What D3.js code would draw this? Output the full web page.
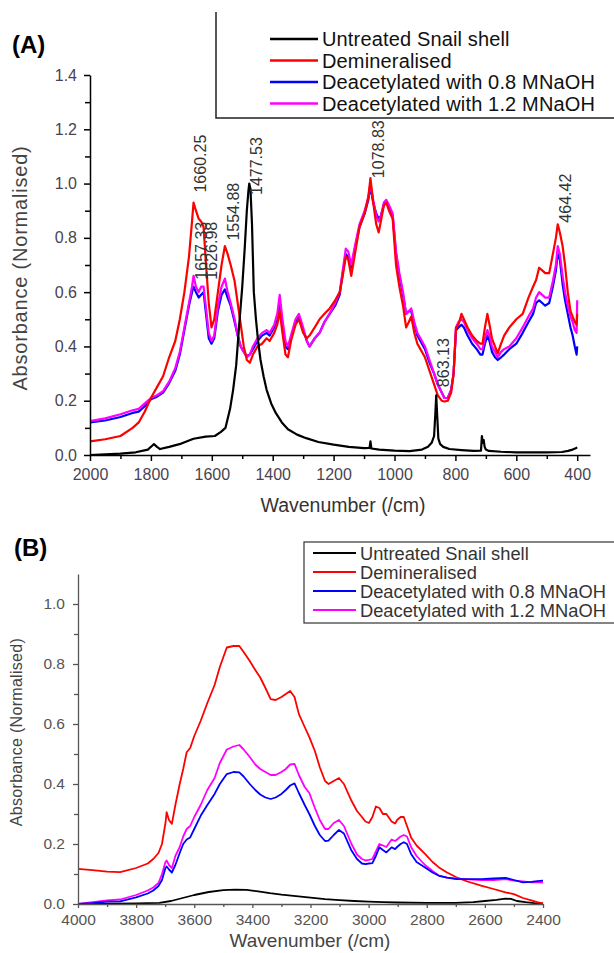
<!DOCTYPE html>
<html>
<head>
<meta charset="utf-8">
<script src="https://cdn.jsdelivr.net/npm/d3@7"></script>
<style>
body { margin: 0; background: #fff; }
svg { display: block; font-family: "Liberation Sans", Arial, sans-serif; }
</style>
</head>
<body>
<script>
// legend names and colours (same order in both panels)
var seriesNames = ["Untreated Snail shell", "Demineralised", "Deacetylated with 0.8 MNaOH", "Deacetylated with 1.2 MNaOH"];
var seriesColors = ["#000000", "#ff0000", "#0000ff", "#ff00ff"];

// ---- panel A: 2000-400 /cm ----
var wnA = [2000,1950,1900,1860,1840,1820,1800,1780,1760,1740,
  1720,1705,1690,1675,1665,1660,1652,1643,1635,1627,
  1620,1610,1601,1592,1580,1568,1557,1548,1538,1525,
  1515,1505,1495,1485,1475,1465,1450,1435,1420,1410,
  1395,1385,1377,1368,1358,1350,1340,1325,1314,1300,
  1288,1279,1262,1246,1230,1213,1195,1180,1170,1160,
  1152,1142,1130,1115,1098,1086,1079,1070,1060,1052,
  1045,1035,1027,1018,1006,995,984,972,962,953,
  945,935,925,915,900,885,870,858,845,836,
  825,814,806,798,790,780,772,760,745,730,
  718,711,703,695,688,680,670,661,650,640,
  623,600,579,560,545,535,525,515,505,492,
  480,470,464,457,448,440,431,422,415,408,
  402,400];
var demineralisedA = [0.05,0.058,0.07,0.1,0.12,0.16,0.21,0.25,0.29,0.36,
  0.42,0.5,0.6,0.73,0.86,0.93,0.9,0.87,0.86,0.84,
  0.72,0.56,0.47,0.5,0.6,0.7,0.77,0.74,0.7,0.64,
  0.56,0.48,0.4,0.35,0.34,0.37,0.4,0.41,0.43,0.42,
  0.45,0.48,0.53,0.45,0.37,0.36,0.42,0.48,0.5,0.45,
  0.43,0.44,0.47,0.5,0.52,0.54,0.57,0.6,0.66,0.73,
  0.72,0.66,0.74,0.84,0.89,0.95,1.02,0.93,0.85,0.82,
  0.86,0.92,0.93,0.9,0.87,0.7,0.62,0.55,0.47,0.49,
  0.51,0.45,0.41,0.39,0.36,0.31,0.26,0.22,0.2,0.197,
  0.2,0.23,0.3,0.47,0.48,0.52,0.5,0.47,0.44,0.42,
  0.41,0.41,0.47,0.52,0.48,0.43,0.4,0.375,0.41,0.44,
  0.47,0.5,0.52,0.58,0.62,0.645,0.69,0.68,0.67,0.67,
  0.74,0.8,0.85,0.82,0.77,0.7,0.6,0.53,0.51,0.49,
  0.48,0.52];
var naoh08A = [0.12,0.127,0.14,0.155,0.16,0.18,0.205,0.215,0.23,0.265,
  0.31,0.37,0.46,0.55,0.6,0.62,0.6,0.58,0.59,0.6,
  0.53,0.43,0.41,0.43,0.53,0.59,0.61,0.58,0.55,0.49,
  0.44,0.4,0.38,0.365,0.37,0.39,0.42,0.44,0.45,0.44,
  0.47,0.5,0.56,0.48,0.4,0.39,0.43,0.49,0.51,0.46,
  0.42,0.4,0.43,0.45,0.49,0.52,0.55,0.59,0.67,0.74,
  0.73,0.69,0.76,0.84,0.89,0.94,0.99,0.93,0.89,0.87,
  0.88,0.92,0.93,0.91,0.88,0.74,0.66,0.59,0.52,0.53,
  0.53,0.48,0.44,0.42,0.39,0.34,0.3,0.26,0.23,0.21,
  0.21,0.24,0.3,0.46,0.47,0.48,0.47,0.44,0.41,0.39,
  0.37,0.37,0.41,0.44,0.42,0.38,0.36,0.35,0.36,0.37,
  0.39,0.41,0.45,0.49,0.52,0.56,0.57,0.56,0.55,0.56,
  0.62,0.68,0.74,0.72,0.63,0.57,0.52,0.47,0.44,0.4,
  0.37,0.4];
var naoh12A = [0.125,0.135,0.15,0.165,0.17,0.19,0.21,0.22,0.235,0.27,
  0.32,0.38,0.47,0.56,0.62,0.66,0.62,0.6,0.62,0.62,
  0.55,0.45,0.42,0.44,0.55,0.62,0.65,0.6,0.56,0.5,
  0.44,0.4,0.38,0.36,0.37,0.4,0.43,0.45,0.46,0.45,
  0.48,0.52,0.59,0.5,0.42,0.4,0.44,0.5,0.52,0.47,
  0.42,0.4,0.43,0.45,0.49,0.52,0.56,0.6,0.68,0.76,
  0.75,0.7,0.77,0.85,0.9,0.95,1.0,0.94,0.88,0.86,
  0.88,0.93,0.94,0.92,0.89,0.75,0.67,0.6,0.52,0.53,
  0.54,0.49,0.45,0.43,0.4,0.35,0.3,0.26,0.23,0.21,
  0.21,0.24,0.3,0.47,0.49,0.5,0.49,0.46,0.43,0.41,
  0.39,0.39,0.43,0.46,0.44,0.4,0.38,0.36,0.38,0.39,
  0.4,0.43,0.47,0.51,0.54,0.58,0.6,0.59,0.58,0.58,
  0.64,0.7,0.77,0.74,0.66,0.6,0.55,0.51,0.49,0.46,
  0.45,0.57];
var wnShellA = [2000,1950,1900,1850,1810,1795,1790,1780,1770,1740,
  1700,1660,1620,1590,1570,1555,1540,1530,1520,1510,
  1500,1492,1485,1480,1477,1473,1468,1462,1455,1448,
  1440,1430,1420,1405,1390,1370,1350,1320,1290,1250,
  1200,1150,1100,1082,1079,1076,1050,1000,950,910,
  890,878,870,866,863,860,856,850,840,820,
  780,740,716,713,710,707,704,700,690,650,
  600,550,500,450,430,415,405,400];
var shellA = [0.0,0.002,0.005,0.01,0.02,0.035,0.04,0.03,0.022,0.03,
  0.042,0.06,0.068,0.07,0.085,0.1,0.17,0.24,0.33,0.48,
  0.62,0.76,0.9,0.97,1.0,0.98,0.85,0.6,0.5,0.42,
  0.35,0.29,0.24,0.19,0.155,0.12,0.095,0.075,0.062,0.048,
  0.038,0.03,0.025,0.026,0.05,0.024,0.02,0.016,0.014,0.02,
  0.03,0.045,0.07,0.15,0.22,0.15,0.06,0.04,0.03,0.022,
  0.018,0.015,0.016,0.07,0.045,0.055,0.03,0.02,0.015,0.012,
  0.01,0.01,0.01,0.011,0.015,0.02,0.025,0.028];
var peakWn = [1660.25, 1657.33, 1626.98, 1554.88, 1477.53, 1078.83, 863.13, 464.42];
var peakLabelBase = [0.967, 0.646, 0.646, 0.79, 0.958, 1.02, 0.25, 0.856];
var xTicksA = [2000, 1800, 1600, 1400, 1200, 1000, 800, 600, 400];
var xMinorA = [1900, 1700, 1500, 1300, 1100, 900, 700, 500];
var yTicksA = [0, 0.2, 0.4, 0.6, 0.8, 1.0, 1.2, 1.4];
var yMinorA = [0.1, 0.3, 0.5, 0.7, 0.9, 1.1, 1.3];

// ---- panel B: 4000-2400 /cm ----
var wnB = [4000,3950,3900,3855,3800,3760,3741,3723,3711,3699,
  3695,3687,3677,3665,3650,3638,3626,3614,3600,3578,
  3555,3530,3512,3488,3465,3445,3430,3409,3390,3373,
  3355,3337,3320,3300,3285,3270,3255,3240,3220,3204,
  3185,3168,3150,3138,3120,3102,3085,3059,3040,3023,
  3011,2999,2987,2975,2963,2951,2939,2921,2909,2902,
  2890,2879,2868,2854,2835,2806,2780,2758,2730,2698,
  2660,2613,2570,2529,2500,2469,2440,2420,2400];
var demineralisedB = [0.117,0.113,0.108,0.106,0.12,0.135,0.15,0.17,0.2,0.27,
  0.306,0.28,0.267,0.33,0.40,0.45,0.506,0.52,0.56,0.61,
  0.67,0.73,0.79,0.855,0.86,0.86,0.84,0.81,0.78,0.755,
  0.72,0.683,0.68,0.69,0.70,0.71,0.69,0.633,0.59,0.556,
  0.51,0.456,0.41,0.40,0.41,0.42,0.4,0.344,0.31,0.29,
  0.275,0.27,0.29,0.325,0.32,0.30,0.30,0.275,0.268,0.28,
  0.29,0.29,0.26,0.222,0.195,0.167,0.14,0.122,0.105,0.089,
  0.075,0.061,0.05,0.039,0.033,0.02,0.012,0.006,0.002];
var naoh08B = [0.0,0.003,0.008,0.009,0.022,0.035,0.045,0.06,0.08,0.12,
  0.125,0.115,0.105,0.13,0.17,0.2,0.215,0.222,0.25,0.294,
  0.33,0.367,0.4,0.433,0.44,0.439,0.425,0.40,0.38,0.365,
  0.355,0.35,0.355,0.367,0.38,0.395,0.402,0.37,0.33,0.30,
  0.26,0.23,0.21,0.211,0.23,0.247,0.235,0.178,0.15,0.135,
  0.133,0.135,0.136,0.16,0.189,0.18,0.172,0.189,0.183,0.19,
  0.2,0.206,0.2,0.167,0.14,0.122,0.105,0.094,0.088,0.083,
  0.083,0.083,0.085,0.087,0.08,0.072,0.074,0.076,0.078];
var naoh12B = [0.0,0.006,0.012,0.015,0.03,0.045,0.055,0.07,0.1,0.14,
  0.145,0.13,0.12,0.16,0.19,0.225,0.25,0.26,0.29,0.33,
  0.38,0.42,0.47,0.515,0.525,0.53,0.515,0.49,0.465,0.45,
  0.44,0.43,0.43,0.44,0.45,0.465,0.467,0.43,0.39,0.37,
  0.32,0.28,0.25,0.25,0.27,0.28,0.26,0.2,0.165,0.15,
  0.145,0.147,0.15,0.175,0.2,0.195,0.19,0.215,0.21,0.215,
  0.225,0.23,0.225,0.19,0.16,0.13,0.11,0.095,0.088,0.085,
  0.082,0.08,0.08,0.083,0.078,0.075,0.072,0.072,0.072];
var wnShellB = [4000,3900,3800,3720,3680,3640,3600,3550,3500,3460,
  3420,3380,3340,3300,3250,3200,3150,3100,3050,3000,
  2950,2900,2800,2700,2640,2600,2560,2530,2510,2490,
  2460,2430,2400];
var shellB = [0,0.001,0.002,0.004,0.01,0.02,0.03,0.04,0.046,0.048,
  0.047,0.042,0.036,0.031,0.026,0.021,0.016,0.013,0.01,0.008,
  0.006,0.005,0.004,0.004,0.006,0.01,0.014,0.018,0.017,0.01,
  0.006,0.003,0.002];
var xTicksB = [4000, 3800, 3600, 3400, 3200, 3000, 2800, 2600, 2400];
var xMinorB = [3900, 3700, 3500, 3300, 3100, 2900, 2700, 2500];
var yTicksB = [0, 0.2, 0.4, 0.6, 0.8, 1.0];
var yMinorB = [0.1, 0.3, 0.5, 0.7, 0.9];

var width = 614,
    height = 953;

var svg = d3.select("body")
    .append("svg")
    .attr("width", width)
    .attr("height", height);

function pairs(wn, vals) {
    return wn.map(function(w, i) { return [w, vals[i]]; });
}

function styleAxis(sel, color, sw, fs, textColor) {
    sel.select(".domain").attr("stroke", color).attr("stroke-width", sw);
    sel.selectAll(".tick line").attr("stroke", color).attr("stroke-width", sw);
    sel.selectAll(".tick text").attr("fill", textColor).style("font-size", fs + "px");
}

// ================= panel A =================
var xA = d3.scaleLinear().domain([2000, 358]).range([90, 590]);
var yA = d3.scaleLinear().domain([0, 1.4]).range([455, 75]);
var gA = svg.append("g");

var lineA = d3.line()
    .x(function(d) { return xA(d[0]); })
    .y(function(d) { return yA(d[1]); });

var seriesA = [
    {data: pairs(wnA, naoh08A), color: seriesColors[2]},
    {data: pairs(wnA, naoh12A), color: seriesColors[3]},
    {data: pairs(wnA, demineralisedA), color: seriesColors[1]},
    {data: pairs(wnShellA, shellA), color: seriesColors[0]}
];
gA.selectAll("path.spec")
    .data(seriesA).enter()
    .append("path")
    .attr("class", "spec")
    .attr("fill", "none")
    .attr("stroke", function(d) { return d.color; })
    .attr("stroke-width", 2.2)
    .attr("stroke-linejoin", "round")
    .attr("d", function(d) { return lineA(d.data); });

var axXA = gA.append("g").attr("transform", "translate(0,455)")
    .call(d3.axisBottom(xA).tickValues(xTicksA).tickSize(6).tickSizeOuter(0).tickPadding(8).tickFormat(d3.format("d")));
styleAxis(axXA, "#000", 1.5, 16, "#4a4350");
var axXAm = gA.append("g").attr("transform", "translate(0,455)")
    .call(d3.axisBottom(xA).tickValues(xMinorA).tickSize(4).tickSizeOuter(0).tickFormat(""));
styleAxis(axXAm, "#000", 1.5, 16, "#4a4350");
axXAm.select(".domain").remove();

var axYA = gA.append("g").attr("transform", "translate(90,0)")
    .call(d3.axisLeft(yA).tickValues(yTicksA).tickSize(6).tickSizeOuter(0).tickPadding(7).tickFormat(d3.format(".1f")));
styleAxis(axYA, "#000", 1.5, 16, "#4a4350");
var axYAm = gA.append("g").attr("transform", "translate(90,0)")
    .call(d3.axisLeft(yA).tickValues(yMinorA).tickSize(5).tickSizeOuter(0).tickFormat(""));
styleAxis(axYAm, "#000", 1.5, 16, "#4a4350");
axYAm.select(".domain").remove();

// peak labels
gA.selectAll("text.peak")
    .data(peakWn).enter()
    .append("text")
    .attr("class", "peak")
    .attr("transform", function(d, i) {
        return "translate(" + (xA(d) + 13) + "," + yA(peakLabelBase[i]) + ") rotate(-90)";
    })
    .attr("fill", "#333")
    .style("font-size", "16px")
    .text(function(d) { return d.toFixed(2); });

gA.append("text")
    .attr("transform", "translate(27,268) rotate(-90)")
    .attr("text-anchor", "middle")
    .attr("fill", "#444")
    .style("font-size", "20px")
    .style("letter-spacing", "0.8px")
    .text("Absorbance (Normalised)");

gA.append("text")
    .attr("x", 343).attr("y", 512)
    .attr("text-anchor", "middle")
    .attr("fill", "#333")
    .style("font-size", "19.5px")
    .text("Wavenumber (/cm)");

gA.append("text")
    .attr("x", 12).attr("y", 53)
    .style("font-size", "24px")
    .style("font-weight", "bold")
    .text("(A)");

// legend A (box is cut off at top and right)
var legA = gA.append("g");
legA.append("path")
    .attr("d", "M216,12V118H614")
    .attr("fill", "none").attr("stroke", "#222").attr("stroke-width", 1.5);
var legAItems = legA.selectAll("g.item")
    .data(seriesNames).enter()
    .append("g")
    .attr("transform", function(d, i) { return "translate(0," + (39 + i * 21.5) + ")"; });
legAItems.append("line")
    .attr("x1", 270).attr("x2", 318)
    .attr("stroke", function(d, i) { return seriesColors[i]; })
    .attr("stroke-width", 2.5);
legAItems.append("text")
    .attr("x", 322).attr("dy", "0.36em")
    .attr("fill", "#111")
    .style("font-size", "20px")
    .style("letter-spacing", "0.15px")
    .text(function(d) { return d; });

// ================= panel B =================
var xB = d3.scaleLinear().domain([4000, 2400]).range([78, 543]);
var yB = d3.scaleLinear().domain([0, 1.1]).range([904, 574]);
var gB = svg.append("g");

var lineB = d3.line()
    .x(function(d) { return xB(d[0]); })
    .y(function(d) { return yB(d[1]); });

var seriesB = [
    {data: pairs(wnShellB, shellB), color: seriesColors[0]},
    {data: pairs(wnB, demineralisedB), color: seriesColors[1]},
    {data: pairs(wnB, naoh12B), color: seriesColors[3]},
    {data: pairs(wnB, naoh08B), color: seriesColors[2]}
];
gB.selectAll("path.spec")
    .data(seriesB).enter()
    .append("path")
    .attr("class", "spec")
    .attr("fill", "none")
    .attr("stroke", function(d) { return d.color; })
    .attr("stroke-width", 1.8)
    .attr("stroke-linejoin", "round")
    .attr("d", function(d) { return lineB(d.data); });

var axXB = gB.append("g").attr("transform", "translate(0,904)")
    .call(d3.axisBottom(xB).tickValues(xTicksB).tickSize(4).tickSizeOuter(0).tickPadding(6).tickFormat(d3.format("d")));
styleAxis(axXB, "#555", 1.3, 15.5, "#555");
var axXBm = gB.append("g").attr("transform", "translate(0,904)")
    .call(d3.axisBottom(xB).tickValues(xMinorB).tickSize(3).tickSizeOuter(0).tickFormat(""));
styleAxis(axXBm, "#555", 1.3, 15.5, "#555");
axXBm.select(".domain").remove();

var axYB = gB.append("g").attr("transform", "translate(78,0)")
    .call(d3.axisLeft(yB).tickValues(yTicksB).tickSize(5).tickSizeOuter(0).tickPadding(8).tickFormat(d3.format(".1f")));
styleAxis(axYB, "#555", 1.3, 15.5, "#555");
var axYBm = gB.append("g").attr("transform", "translate(78,0)")
    .call(d3.axisLeft(yB).tickValues(yMinorB).tickSize(4).tickSizeOuter(0).tickFormat(""));
styleAxis(axYBm, "#555", 1.3, 15.5, "#555");
axYBm.select(".domain").remove();

gB.append("text")
    .attr("transform", "translate(22,732) rotate(-90)")
    .attr("text-anchor", "middle")
    .attr("fill", "#444")
    .style("font-size", "16px")
    .style("letter-spacing", "0.3px")
    .text("Absorbance (Normalised)");

gB.append("text")
    .attr("x", 310).attr("y", 947)
    .attr("text-anchor", "middle")
    .attr("fill", "#444")
    .style("font-size", "19px")
    .text("Wavenumber (/cm)");

gB.append("text")
    .attr("x", 14).attr("y", 556)
    .style("font-size", "24px")
    .style("font-weight", "bold")
    .text("(B)");

// legend B (right side runs off the page)
var legB = gB.append("g");
legB.append("rect")
    .attr("x", 304).attr("y", 542)
    .attr("width", 340).attr("height", 81)
    .attr("fill", "#fff").attr("stroke", "#333").attr("stroke-width", 1.2);
var legBItems = legB.selectAll("g.item")
    .data(seriesNames).enter()
    .append("g")
    .attr("transform", function(d, i) { return "translate(0," + (553 + i * 19) + ")"; });
legBItems.append("line")
    .attr("x1", 313).attr("x2", 356)
    .attr("stroke", function(d, i) { return seriesColors[i]; })
    .attr("stroke-width", 2);
legBItems.append("text")
    .attr("x", 360).attr("dy", "0.36em")
    .attr("fill", "#333")
    .style("font-size", "18.3px")
    .text(function(d) { return d; });
</script>
</body>
</html>
